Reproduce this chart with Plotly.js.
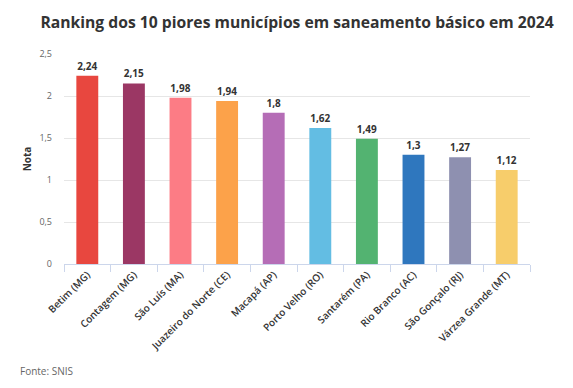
<!DOCTYPE html>
<html>
<head>
<meta charset="utf-8">
<script src="https://cdn.plot.ly/plotly-3.0.1.min.js"></script>
<style>
html,body{margin:0;padding:0;background:#fff;}
#chart{width:573px;height:388px;}
</style>
</head>
<body>
<div id="chart"></div>
<script>
const cities = ["Betim (MG)", "Contagem (MG)", "São Luís (MA)", "Juazeiro do Norte (CE)", "Macapá (AP)", "Porto Velho (RO)", "Santarém (PA)", "Rio Branco (AC)", "São Gonçalo (RJ)", "Várzea Grande (MT)"];
const notas = [2.24, 2.15, 1.98, 1.94, 1.8, 1.62, 1.49, 1.3, 1.27, 1.12];
const barColors = ["#E8473F", "#9B3764", "#FC7C85", "#FCA24A", "#B56DB6", "#63BDE3", "#53B371", "#2F77BE", "#8E90B0", "#F7CD6B"];
const yTicks = [0, 0.5, 1, 1.5, 2, 2.5];
const yTickText = ["0", "0,5", "1", "1,5", "2", "2,5"];
const titleText = "Ranking dos 10 piores municípios em saneamento básico em 2024";
const yTitle = "Nota";
const sourceText = "Fonte: SNIS";

const labels = notas.map(v => String(v).replace(".", ","));

const trace = {
  type: "bar",
  x: cities,
  y: notas,
  marker: {color: barColors, line: {width: 0}},
  text: labels,
  textposition: "outside",
  cliponaxis: false,
  textfont: {family: "Open Sans", size: 10, color: "#333333", weight: 700},
  hoverinfo: "x+y"
};

const layout = {
  width: 573,
  height: 388,
  margin: {l: 64, r: 43, t: 54, b: 124, autoexpand: false},
  paper_bgcolor: "#ffffff",
  plot_bgcolor: "#ffffff",
  bargap: 0.53,
  showlegend: false,
  font: {family: "Open Sans", color: "#333333"},
  title: {
    text: titleText,
    font: {family: "Open Sans", size: 15.7, color: "#333333", weight: 700},
    x: 0.5, xanchor: "center", xref: "paper",
    y: 1, yref: "container", yanchor: "top", pad: {t: 17}
  },
  xaxis: {
    type: "category",
    tickangle: -45,
    tickfont: {family: "Open Sans", size: 10, color: "#333333", weight: 600},
    showgrid: false,
    showline: true,
    linecolor: "#ccd6eb",
    linewidth: 1,
    ticks: "outside",
    ticklen: 7,
    tickcolor: "#ccd6eb",
    tickson: "boundaries",
    automargin: false,
    fixedrange: true
  },
  yaxis: {
    range: [0, 2.5],
    tickvals: yTicks,
    ticktext: yTickText,
    tickfont: {family: "Open Sans", size: 9, color: "#666666"},
    showgrid: true,
    gridcolor: "#e6e6e6",
    gridwidth: 1,
    zeroline: false,
    showline: false,
    ticks: "",
    ticklabelstandoff: 11,
    automargin: false,
    fixedrange: true,
    title: {text: yTitle, font: {family: "Open Sans", size: 10, color: "#333333", weight: 700}, standoff: 5}
  },
  annotations: [{
    text: sourceText,
    xref: "paper", yref: "paper",
    x: 0, y: 0, xanchor: "left", yanchor: "middle",
    xshift: -46, yshift: -107,
    showarrow: false,
    font: {family: "Open Sans", size: 10, color: "#666666"}
  }]
};

Plotly.newPlot("chart", [trace], layout, {displayModeBar: false, responsive: false, staticPlot: true});
</script>
</body>
</html>
